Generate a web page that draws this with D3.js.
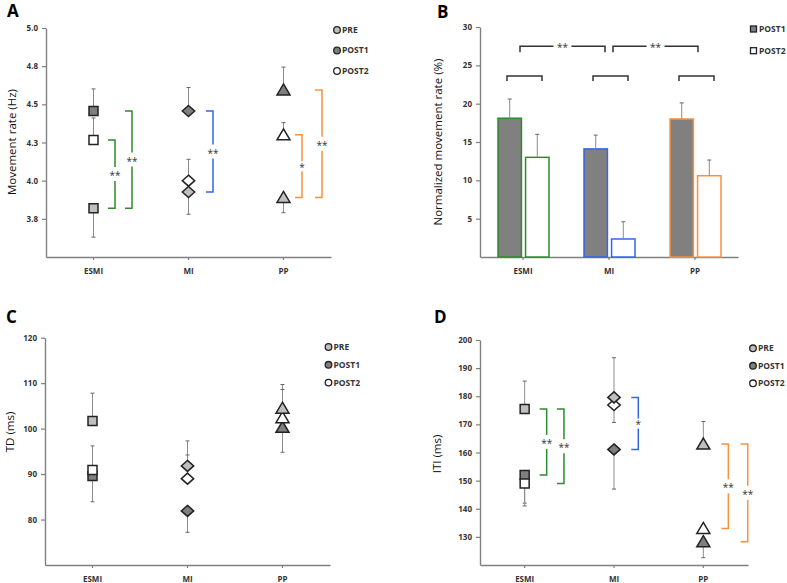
<!DOCTYPE html>
<html>
<head>
<meta charset="utf-8">
<script src="https://cdn.jsdelivr.net/npm/d3@7/dist/d3.min.js"></script>
<style>
  body { margin: 0; background: #fff; }
  svg { display: block; }
  text { font-family: "Open Sans", sans-serif; }
</style>
</head>
<body>
<div id="chart"></div>
<script>
var groups = ["ESMI", "MI", "PP"];
var sessions = ["PRE", "POST1", "POST2"];

// A: movement rate (Hz), per group [PRE, POST1, POST2]; error sign = bar direction
var rateMean = [[3.82, 4.456, 4.266], [3.926, 4.456, 4.0], [3.89, 4.594, 4.30]];
var rateErr = [[-0.19, 0.145, 0.145], [-0.146, 0.154, 0.14], [-0.10, 0.15, 0.08]];
var rateTicks = [3.75, 4.0, 4.25, 4.5, 4.75, 5.0];
// [group, session a, session b, label]
var rateSig = [[0, 2, 0, "**"], [0, 1, 0, "**"], [1, 1, 0, "**"], [2, 2, 0, "*"], [2, 1, 0, "**"]];

// B: normalized movement rate (%)
var normSeries = ["POST1", "POST2"];
var normMean = [[18.1, 13.0], [14.1, 2.35], [18.0, 10.6]];
var normErr = [[2.5, 3.0], [1.8, 2.25], [2.1, 2.05]];
var normTicks = [5, 10, 15, 20, 25, 30];
var normPairSig = [[0, 23.6], [1, 23.6], [2, 23.6]];
var normGroupSig = [[0, 1, 27.5, "**"], [1, 2, 27.5, "**"]];

// C: TD (ms)
var tdMean = [[101.7, 89.6, 90.9], [91.8, 81.9, 89.0], [104.5, 100.3, 102.4]];
var tdErr = [[6.1, -5.7, 5.3], [5.5, -4.7, 5.2], [5.2, -5.5, 6.2]];
var tdTicks = [80, 90, 100, 110, 120];

// D: ITI (ms)
var itiMean = [[175.5, 152.0, 149.0], [179.6, 161.1, 176.9], [163.0, 128.3, 133.0]];
var itiErr = [[9.9, -10, -8], [14.1, -14.1, -6.2], [8, -5.7, 0]];
var itiTicks = [130, 140, 150, 160, 170, 180, 190, 200];
var itiSig = [[0, 0, 1, "**"], [0, 0, 2, "**"], [1, 0, 1, "*"], [2, 0, 2, "**"], [2, 0, 1, "**"]];

var sessionFill = { PRE: "#bfbfbf", POST1: "#7f7f7f", POST2: "#ffffff" };
var groupColor = ["#2e8b2e", "#3366ee", "#f7913d"];
var axisColor = "#808080";

var svg = d3.select("#chart").append("svg")
  .attr("width", 787)
  .attr("height", 583);

function markerPath(shape) {
  if (shape === 0) return "M-4.5,-4.5H4.5V4.5H-4.5Z";
  if (shape === 1) return "M0,-5.5L6.2,0L0,5.5L-6.2,0Z";
  return "M0,-6L6.5,5L-6.5,5Z";
}

function styleAxis(a) {
  a.select(".domain").attr("stroke", axisColor).attr("stroke-width", 1.4);
  a.selectAll(".tick line").attr("stroke", axisColor).attr("stroke-width", 1.2);
  a.selectAll(".tick text")
    .attr("font-size", 8)
    .attr("font-weight", "bold")
    .attr("fill", "#333");
}

function yLabel(tx, ty, txt) {
  svg.append("text")
    .attr("transform", `translate(${tx},${ty}) rotate(-90)`)
    .attr("text-anchor", "middle")
    .attr("font-size", 11.5)
    .attr("fill", "#111")
    .text(txt);
}

function panelLetter(tx, ty, txt) {
  svg.append("text")
    .attr("x", tx).attr("y", ty)
    .attr("font-family", "Liberation Sans, Arial, sans-serif")
    .attr("font-size", 17)
    .attr("font-weight", "bold")
    .text(txt);
}

function scatterPanel(p) {
  var g = svg.append("g");
  var x = d3.scaleBand().domain(groups).range([p.left, p.right]);
  var y = d3.scaleLinear().domain(p.domain).range([p.bottom, p.top]);
  var cx = function(i) { return x(groups[i]) + x.bandwidth() / 2; };

  var ya = g.append("g")
    .attr("transform", `translate(${p.left},0)`)
    .call(d3.axisLeft(y).tickValues(p.ticks).tickFormat(p.fmt).tickSize(4).tickSizeOuter(0));
  ya.selectAll(".tick text").attr("x", -8);
  styleAxis(ya);

  var xa = g.append("g")
    .attr("transform", `translate(0,${p.bottom})`)
    .call(d3.axisBottom(x).tickSize(3).tickSizeOuter(0));
  xa.selectAll(".tick text").attr("y", 11);
  styleAxis(xa);

  // error bars
  p.means.forEach(function(row, i) {
    row.forEach(function(m, j) {
      var e = p.errs[i][j];
      if (!e) return;
      g.append("line")
        .attr("x1", cx(i)).attr("x2", cx(i))
        .attr("y1", y(m)).attr("y2", y(m + e))
        .attr("stroke", "#8c8c8c").attr("stroke-width", 1);
      g.append("line")
        .attr("x1", cx(i) - 2).attr("x2", cx(i) + 2)
        .attr("y1", y(m + e)).attr("y2", y(m + e))
        .attr("stroke", "#666").attr("stroke-width", 1);
    });
  });

  // markers
  var order = [1, 2, 0];
  p.means.forEach(function(row, i) {
    order.forEach(function(j) {
      g.append("path")
        .attr("d", markerPath(i))
        .attr("transform", `translate(${cx(i)},${y(row[j])})`)
        .attr("fill", sessionFill[sessions[j]])
        .attr("stroke", "#222")
        .attr("stroke-width", 1.5);
    });
  });

  // significance brackets
  if (p.sig) {
    p.sig.forEach(function(s, k) {
      var bx = cx(s[0]) + p.sigX[k];
      var ya1 = y(p.means[s[0]][s[1]]), ya2 = y(p.means[s[0]][s[2]]);
      var t = Math.min(ya1, ya2), b = Math.max(ya1, ya2);
      var mid = (t + b) / 2;
      var gap = s[3].length > 1 ? 7 : 5;
      g.append("path")
        .attr("d", `M${bx - 7},${t}H${bx}V${mid - gap}M${bx},${mid + gap}V${b}H${bx - 7}`)
        .attr("fill", "none")
        .attr("stroke", groupColor[s[0]])
        .attr("stroke-width", 1.5);
      g.append("text")
        .attr("x", bx).attr("y", mid + 5)
        .attr("text-anchor", "middle")
        .attr("font-size", 10)
        .attr("fill", "#333")
        .text(s[3]);
    });
  }

  // legend
  sessions.forEach(function(s, k) {
    var ly = p.legend[1] + k * p.legend[2];
    g.append("circle")
      .attr("cx", p.legend[0]).attr("cy", ly).attr("r", 3.3)
      .attr("fill", sessionFill[s]).attr("stroke", "#222").attr("stroke-width", 1.3);
    g.append("text")
      .attr("x", p.legend[0] + 5).attr("y", ly).attr("dy", "0.35em")
      .attr("font-size", 8.5).attr("font-weight", "bold").attr("fill", "#333")
      .text(s);
  });
}

function barPanel() {
  var left = 480, right = 738, top = 27, bottom = 257;
  var g = svg.append("g");
  var x = d3.scaleBand().domain(groups).range([left, right]);
  var y = d3.scaleLinear().domain([0, 30]).range([bottom, top]);
  var x1 = d3.scaleBand().domain(normSeries).range([-25, 26]).paddingInner(0.15);
  var cx = function(i) { return x(groups[i]) + x.bandwidth() / 2; };

  var ya = g.append("g")
    .attr("transform", `translate(${left},0)`)
    .call(d3.axisLeft(y).tickValues(normTicks).tickSize(4).tickSizeOuter(0));
  ya.selectAll(".tick text").attr("x", -8);
  styleAxis(ya);

  var xa = g.append("g")
    .attr("transform", `translate(0,${bottom})`)
    .call(d3.axisBottom(x).tickSize(3).tickSizeOuter(0));
  xa.selectAll(".tick text").attr("y", 11);
  styleAxis(xa);

  normMean.forEach(function(row, i) {
    row.forEach(function(m, j) {
      var bx = cx(i) + x1(normSeries[j]);
      g.append("rect")
        .attr("x", bx).attr("y", y(m))
        .attr("width", x1.bandwidth()).attr("height", bottom - y(m))
        .attr("fill", j === 0 ? "#808080" : "#ffffff")
        .attr("stroke", groupColor[i]).attr("stroke-width", 1.5);
      var ex = bx + x1.bandwidth() / 2, top2 = y(m + normErr[i][j]);
      g.append("line")
        .attr("x1", ex).attr("x2", ex).attr("y1", y(m)).attr("y2", top2)
        .attr("stroke", "#8c8c8c").attr("stroke-width", 1);
      g.append("line")
        .attr("x1", ex - 2).attr("x2", ex + 2).attr("y1", top2).attr("y2", top2)
        .attr("stroke", "#666").attr("stroke-width", 1);
    });
  });

  // brackets within group
  normPairSig.forEach(function(s) {
    var by = y(s[1]), c = cx(s[0]);
    g.append("path")
      .attr("d", `M${c - 16},${by + 5}V${by}H${c + 19}V${by + 5}`)
      .attr("fill", "none").attr("stroke", "#333").attr("stroke-width", 1.5);
  });

  // brackets between groups
  normGroupSig.forEach(function(s) {
    var by = y(s[2]);
    var xs = cx(s[0]) + (s[0] === 1 ? 4 : -3);
    var xe = cx(s[1]) + (s[1] === 1 ? -4 : 3);
    var mid = (xs + xe) / 2;
    g.append("path")
      .attr("d", `M${xs},${by + 6}V${by}H${mid - 9}M${mid + 9},${by}H${xe}V${by + 6}`)
      .attr("fill", "none").attr("stroke", "#333").attr("stroke-width", 1.5);
    g.append("text")
      .attr("x", mid).attr("y", by + 5)
      .attr("text-anchor", "middle").attr("font-size", 10).attr("fill", "#333")
      .text(s[3]);
  });

  normSeries.forEach(function(s, k) {
    var ly = 29 + k * 21.7;
    g.append("rect")
      .attr("x", 750.5).attr("y", ly - 3).attr("width", 6).attr("height", 6)
      .attr("fill", k === 0 ? "#808080" : "#fff")
      .attr("stroke", "#222").attr("stroke-width", 1.3);
    g.append("text")
      .attr("x", 759).attr("y", ly).attr("dy", "0.35em")
      .attr("font-size", 8.5).attr("font-weight", "bold").attr("fill", "#333")
      .text(s);
  });
}

scatterPanel({
  left: 46, right: 331, top: 28, bottom: 257,
  domain: [3.5, 5.0], ticks: rateTicks, fmt: d3.format(".1f"),
  means: rateMean, errs: rateErr, sig: rateSig,
  sigX: [21.5, 38.5, 24.5, 18.5, 38.5],
  legend: [337, 30, 20.5]
});
barPanel();
scatterPanel({
  left: 45, right: 330, top: 337.7, bottom: 565,
  domain: [70, 120], ticks: tdTicks, fmt: d3.format("d"),
  means: tdMean, errs: tdErr, sig: null,
  legend: [328.5, 347, 17.8]
});
scatterPanel({
  left: 480, right: 748, top: 340, bottom: 565,
  domain: [120, 200], ticks: itiTicks, fmt: d3.format("d"),
  means: itiMean, errs: itiErr, sig: itiSig,
  sigX: [22, 39.3, 24.3, 25, 44.4],
  legend: [753, 348.3, 17.5]
});

yLabel(16, 142, "Movement rate (Hz)");
yLabel(442, 142, "Normalized movement rate (%)");
yLabel(14, 432, "TD (ms)");
yLabel(441, 454, "ITI (ms)");

panelLetter(7, 17, "A");
panelLetter(437, 18, "B");
panelLetter(6, 323, "C");
panelLetter(434, 323, "D");
</script>
</body>
</html>
